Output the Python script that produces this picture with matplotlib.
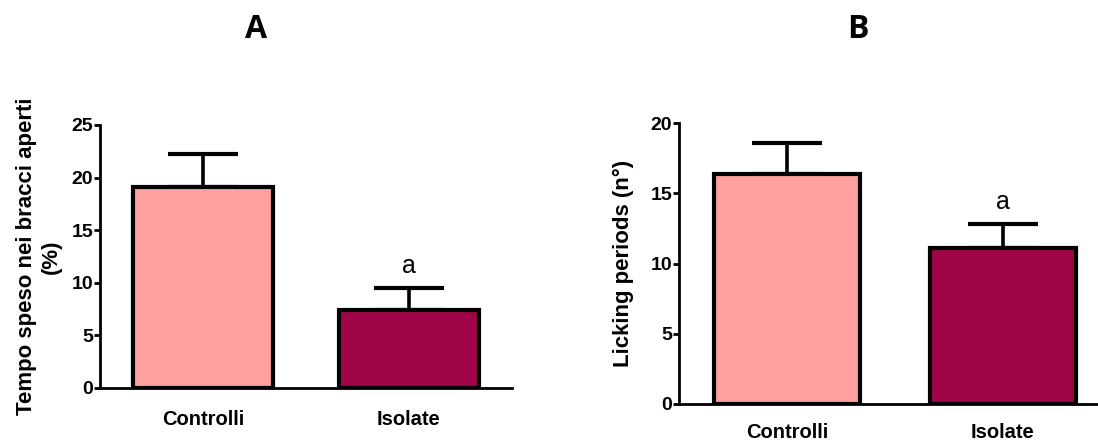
import matplotlib
matplotlib.use("Agg")
import matplotlib.pyplot as plt

categories = ["Controlli", "Isolate"]
colors = ["#FFA0A0", "#A0054A"]

a_values = [19.1, 7.4]
a_errors = [3.1, 2.1]
a_ylabel = "Tempo speso nei bracci aperti\n(%)"
a_yticks = [0, 5, 10, 15, 20, 25]

b_values = [16.4, 11.1]
b_errors = [2.2, 1.7]
b_ylabel = "Licking periods (n°)"
b_yticks = [0, 5, 10, 15, 20]

sig_labels = ["", "a"]

plt.rcParams['font.family'] = ['Liberation Sans', 'DejaVu Sans']

fig = plt.figure(figsize=(10.98, 4.43), dpi=100)
axA = fig.add_axes([100/1098, 55/443, 412/1098, 263/443])
axB = fig.add_axes([679/1098, 39/443, 432/1098, 281/443])

def panel(ax, vals, errs, ylabel, yticks, ylim, lab_pad, xpad):
    x = list(range(len(categories)))
    ax.bar(x, vals, width=0.68, color=colors, edgecolor="black", linewidth=3, zorder=2)
    ax.errorbar(x, vals, yerr=[[0]*len(errs), errs], fmt="none", ecolor="black",
                elinewidth=2.6, capsize=25, capthick=3, zorder=1)
    for xi, v, e, s in zip(x, vals, errs, sig_labels):
        if s:
            ax.annotate(s, (xi, v + e), xytext=(0, 7), textcoords="offset points",
                        ha="center", va="bottom", fontsize=18)
    ax.set_xlim(-0.5, 1.5)
    ax.set_ylim(*ylim)
    ax.set_yticks(yticks)
    ax.set_xticks(x)
    ax.set_xticklabels(categories, fontsize=14.5, fontweight="bold")
    ax.tick_params(axis="x", length=0, pad=xpad)
    ax.tick_params(axis="y", length=4, width=2, labelsize=14, pad=1)
    for lbl in ax.get_yticklabels():
        lbl.set_fontweight("bold")
    for s in ["top", "right"]:
        ax.spines[s].set_visible(False)
    for s in ["left", "bottom"]:
        ax.spines[s].set_linewidth(2)
    ax.set_ylabel(ylabel, fontsize=16, fontweight="bold", labelpad=lab_pad,
                  linespacing=1.2)

panel(axA, a_values, a_errors, a_ylabel, a_yticks, (0, 25), 7, 16)
panel(axB, b_values, b_errors, b_ylabel, b_yticks, (0, 20), 12, 13.5)

fig.text(256/1098, 1 - 30/443, "A", ha="center", va="center", fontsize=23,
         fontweight="bold", family="Open Sans")
fig.text(858/1098, 1 - 30/443, "B", ha="center", va="center", fontsize=23,
         fontweight="bold", family="Open Sans")

fig.savefig("out.png", dpi=100)
